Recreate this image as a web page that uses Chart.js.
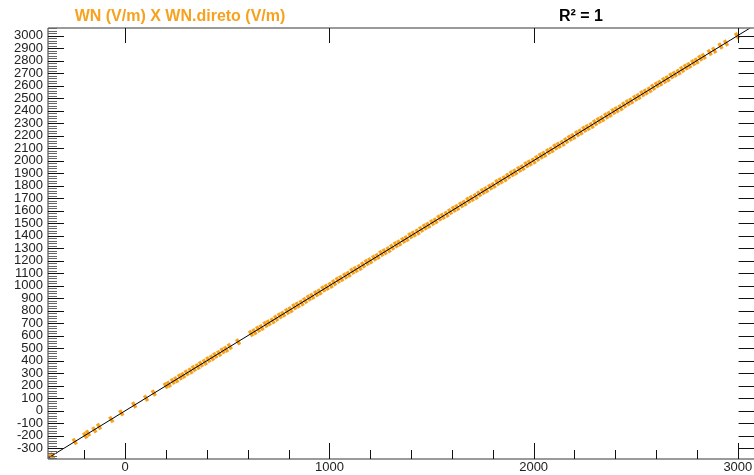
<!DOCTYPE html>
<html lang="pt">
<head>
  <meta charset="UTF-8">
  <title>WN (V/m) X WN.direto (V/m)</title>

  <!-- Chart.js: draws the scatter and the fit line -->
  <script src="https://cdn.jsdelivr.net/npm/chart.js"></script>

  <style>
    /* page fills the window, chart box is a bit wider than the window */
    html, body { margin: 0; padding: 0; overflow: hidden; background: #fff; }
    #box { position: relative; width: 762px; height: 475px; }
  </style>
</head>
<body>
  <div id="box"><canvas id="scatterChart"></canvas></div>

<script>
// title texts
const chartTitle = 'WN (V/m) X WN.direto (V/m)';
const r2Text = 'R² = 1';

// axis ranges
const xRange = [-378, 3082];
const yRange = [-385.5, 3060];

// tick labels
const xTickValues = [0, 1000, 2000, 3000];
const yTickValues = [-300, -200, -100, 0, 100, 200, 300, 400, 500, 600, 700, 800, 900,
  1000, 1100, 1200, 1300, 1400, 1500, 1600, 1700, 1800, 1900, 2000, 2100, 2200, 2300,
  2400, 2500, 2600, 2700, 2800, 2900, 3000];

// WN.direto (x) readings
const wnDireto = [
  -372, -358, -247, -196, -182, -151, -128, -68, -19, 44, 102, 140,
  199, 214, 233, 250, 268, 284, 301, 320, 336, 355, 371, 390, 407, 425, 441, 460, 477, 494, 512,
  553,
  616, 633, 651, 668, 687, 703, 722, 739, 757, 774, 793, 810, 828, 845, 864, 881,
  899, 916, 935, 952, 970, 987, 1006, 1023, 1041, 1058, 1077, 1094, 1112, 1129, 1148, 1165,
  1183, 1200, 1219, 1236, 1254, 1271, 1290, 1307, 1325, 1342, 1361, 1378, 1396, 1413, 1432, 1449,
  1467, 1484, 1503, 1520, 1538, 1555, 1574, 1591, 1609, 1626, 1645, 1662, 1680, 1697, 1716, 1733,
  1751, 1768, 1787, 1804, 1822, 1839, 1858, 1875, 1893, 1910, 1929, 1946, 1964, 1981, 2000, 2017,
  2035, 2052, 2071, 2088, 2106, 2123, 2142, 2159, 2177, 2194, 2213, 2230, 2248, 2265, 2284, 2301,
  2319, 2336, 2355, 2372, 2390, 2407, 2426, 2443, 2461, 2478, 2497, 2514, 2532, 2549, 2568, 2585,
  2603, 2620, 2639, 2656, 2674, 2691, 2710, 2727, 2745, 2762, 2781, 2798, 2816, 2833,
  2862, 2884, 2915, 2942, 2996
];

// WN (y) readings
const wn = [
  -370, -360, -245, -198, -180, -153, -126, -70, -17, 46, 100, 142,
  201, 212, 235, 248, 270, 283, 303, 318, 338, 353, 373, 388, 409, 423, 443, 458, 479, 492, 514,
  551,
  618, 632, 652, 666, 690, 703, 719, 740, 759, 773, 794, 808, 831, 845, 861, 882,
  901, 915, 936, 950, 973, 987, 1003, 1024, 1043, 1057, 1078, 1092, 1115, 1129, 1145, 1166,
  1185, 1199, 1220, 1234, 1257, 1271, 1287, 1308, 1327, 1341, 1362, 1376, 1399, 1413, 1429, 1450,
  1469, 1483, 1504, 1518, 1541, 1555, 1571, 1592, 1611, 1625, 1646, 1660, 1683, 1697, 1713, 1734,
  1753, 1767, 1788, 1802, 1825, 1839, 1855, 1876, 1895, 1909, 1930, 1944, 1967, 1981, 1997, 2018,
  2037, 2051, 2072, 2086, 2109, 2123, 2139, 2160, 2179, 2193, 2214, 2228, 2251, 2265, 2281, 2302,
  2321, 2335, 2356, 2370, 2393, 2407, 2423, 2444, 2463, 2477, 2498, 2512, 2535, 2549, 2565, 2586,
  2605, 2619, 2640, 2654, 2677, 2691, 2707, 2728, 2747, 2761, 2782, 2796, 2819, 2833,
  2864, 2882, 2916, 2940, 2998
];

// fit line end points (y = x)
const fitX = [-400, 3100];
const fitY = [-400, 3100];

const orange = '#F7A21E';

// plugin: frame, tick marks and the two header texts
const framePlugin = {
  id: 'frame',
  afterDraw(chart) {
    const ctx = chart.ctx;
    const a = chart.chartArea;
    const xs = chart.scales.x;
    const ys = chart.scales.y;
    const px = v => Math.round(v) + 0.5;

    ctx.save();

    // frame lines
    ctx.strokeStyle = '#7a7a7a';
    ctx.lineWidth = 1.5;
    ctx.beginPath();
    ctx.moveTo(a.left, a.top); ctx.lineTo(a.right, a.top);
    ctx.moveTo(a.left, a.top); ctx.lineTo(a.left, a.bottom);
    ctx.moveTo(a.left, a.bottom); ctx.lineTo(a.right, a.bottom);
    ctx.stroke();

    ctx.lineWidth = 1;

    // y minor ticks every 20 (left side)
    ctx.strokeStyle = '#666';
    ctx.beginPath();
    for (let v = Math.ceil(yRange[0] / 20) * 20; v <= yRange[1]; v += 20) {
      if (v % 100 === 0) continue;
      const y = px(ys.getPixelForValue(v));
      ctx.moveTo(a.left, y); ctx.lineTo(a.left + 9, y);
    }
    ctx.stroke();

    // y major ticks, left and right
    ctx.strokeStyle = '#111';
    ctx.beginPath();
    yTickValues.forEach(v => {
      const y = px(ys.getPixelForValue(v));
      ctx.moveTo(a.left, y); ctx.lineTo(a.left + 16, y);
      ctx.moveTo(a.right, y); ctx.lineTo(a.right - 16, y);
    });
    ctx.stroke();

    // x minor ticks every 200 (bottom)
    ctx.beginPath();
    for (let v = Math.ceil(xRange[0] / 200) * 200; v <= xRange[1]; v += 200) {
      if (v % 1000 === 0) continue;
      const x = px(xs.getPixelForValue(v));
      ctx.moveTo(x, a.bottom); ctx.lineTo(x, a.bottom - 9);
    }
    // x major ticks, bottom and top
    xTickValues.forEach(v => {
      const x = px(xs.getPixelForValue(v));
      ctx.moveTo(x, a.bottom); ctx.lineTo(x, a.bottom - 16);
      ctx.moveTo(x, a.top); ctx.lineTo(x, a.top + 15);
    });
    ctx.stroke();

    // header texts
    ctx.font = 'bold 16px "Liberation Sans", Arial, sans-serif';
    ctx.textAlign = 'center';
    ctx.textBaseline = 'alphabetic';
    ctx.fillStyle = orange;
    ctx.fillText(chartTitle, 180, 21);
    ctx.fillStyle = '#000';
    ctx.fillText(r2Text, 581, 21);

    ctx.restore();
  }
};

const tickFont = { family: '"Liberation Sans", Arial, sans-serif', size: 13 };

new Chart(document.getElementById('scatterChart'), {
  type: 'scatter',
  data: {
    datasets: [
      {
        // regression line, drawn on top
        type: 'line',
        data: fitX.map((x, i) => ({ x: x, y: fitY[i] })),
        borderColor: '#000',
        borderWidth: 1,
        pointRadius: 0,
        fill: false,
        order: 0
      },
      {
        // measured points: short strokes across the line, like the original markers
        data: wnDireto.map((x, i) => ({ x: x, y: wn[i] })),
        pointStyle: 'line',
        rotation: 59,
        pointRadius: 3.3,
        borderColor: orange,
        backgroundColor: orange,
        borderWidth: 3.4,
        order: 1
      }
    ]
  },
  options: {
    responsive: true,
    maintainAspectRatio: false,
    animation: false,
    layout: { padding: { top: 28, right: 0, bottom: 0, left: 0 } },
    plugins: {
      legend: { display: false },
      tooltip: { enabled: false }
    },
    scales: {
      x: {
        type: 'linear',
        min: xRange[0],
        max: xRange[1],
        grid: { display: false, drawTicks: false },
        border: { display: false },
        afterBuildTicks: s => { s.ticks = xTickValues.map(v => ({ value: v })); },
        afterFit: s => { s.height = 16; },
        ticks: { autoSkip: false, maxRotation: 0, padding: 1, color: '#222', font: tickFont,
          callback: v => String(v) }
      },
      y: {
        type: 'linear',
        min: yRange[0],
        max: yRange[1],
        grid: { display: false, drawTicks: false },
        border: { display: false },
        afterBuildTicks: s => { s.ticks = yTickValues.map(v => ({ value: v })); },
        afterFit: s => { s.width = 48; },
        ticks: { autoSkip: false, padding: 5, color: '#222', font: tickFont,
          callback: v => String(v) }
      }
    }
  },
  plugins: [framePlugin]
});
</script>

</body>
</html>
